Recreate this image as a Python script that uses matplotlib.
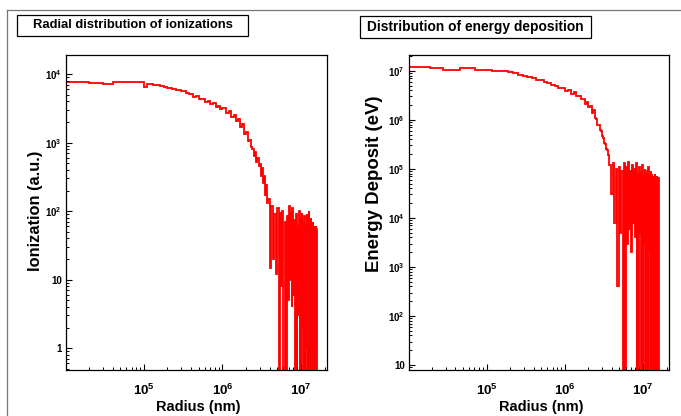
import numpy as np
import matplotlib
matplotlib.use("Agg")
import matplotlib.pyplot as plt
from matplotlib.ticker import LogLocator, FuncFormatter, NullFormatter, FixedLocator
from matplotlib.patches import Rectangle
from matplotlib.lines import Line2D

plt.rcParams['font.family'] = ['Liberation Sans', 'DejaVu Sans']
plt.rcParams['font.weight'] = 'bold'
plt.rcParams['mathtext.fontset'] = 'custom'
plt.rcParams['mathtext.rm'] = 'Liberation Sans:bold'
plt.rcParams['mathtext.bf'] = 'Liberation Sans:bold'
plt.rcParams['mathtext.default'] = 'rm'

# ---------------- data ----------------
titles = ["Radial distribution of ionizations", "Distribution of energy deposition"]
xlabel = "Radius (nm)"
ylabels = ["Ionization (a.u.)", "Energy Deposit (eV)"]
x_major_ticks = [1e5, 1e6, 1e7]

# Ionization histogram (left)
ion_head_edges = [9.0e3, 2.0e4, 3.0e4, 4.0e4, 1.0e5, 1.1e5, 1.3e5, 1.6e5, 1.8e5, 2.0e5,
                  2.3e5, 2.6e5, 3.0e5, 3.4e5, 3.8e5, 4.2e5, 4.6e5, 5.0e5, 5.5e5, 6.0e5,
                  6.5e5, 7.0e5, 7.6e5, 8.2e5, 8.8e5, 9.4e5, 1.0e6,
                  1.1e6, 1.2e6, 1.3e6, 1.4e6, 1.5e6, 1.6e6, 1.7e6, 1.8e6, 1.9e6, 2.0e6,
                  2.1e6, 2.2e6, 2.3e6, 2.4e6, 2.5e6, 2.6e6, 2.7e6, 2.8e6, 2.9e6, 3.0e6,
                  3.1e6, 3.2e6, 3.3e6, 3.4e6, 3.5e6, 3.6e6, 3.7e6, 3.8e6]
ion_head_values = [7600, 7500, 7100, 7570, 6530, 7140, 6950, 6750, 6500, 6350,
                   6050, 5800, 5650, 5250, 5100, 4700, 4800, 4350, 4400, 3950,
                   4050, 3650, 3750, 3300, 3450, 3100,
                   3150, 2700, 2850, 2350, 2550, 2050, 2200, 1700, 1900, 1350,
                   1450, 1050, 1100, 850, 800, 640, 720, 520, 600, 450,
                   480, 330, 420, 260, 330, 170, 240, 130]
ion_tail_range = (3.8e6, 1.6e7)
ion_tail_values = [150, 15, 120, 20, 90, 12, 110, 0, 95, 8,
                   100, 0, 70, 0, 85, 5, 120, 10, 95, 4,
                   110, 6, 75, 0, 90, 0, 60, 3, 100, 0,
                   80, 0, 95, 2, 70, 0, 85, 0, 60, 1,
                   90, 0, 75, 0, 100, 2, 65, 0, 80, 0,
                   55, 1, 70, 0, 60, 0, 50, 0, 60, 0,
                   55, 0]

# Energy deposit histogram (right)
edep_head_edges = [9.0e3, 1.9e4, 2.8e4, 4.6e4, 7.2e4, 1.16e5, 1.9e5, 2.2e5, 2.5e5, 2.9e5,
                   3.3e5, 3.8e5, 4.3e5, 4.8e5, 5.4e5, 6.0e5, 6.7e5, 7.4e5, 8.2e5, 9.0e5,
                   1.0e6, 1.1e6, 1.2e6, 1.3e6, 1.4e6, 1.5e6, 1.6e6, 1.7e6, 1.8e6, 1.9e6,
                   2.0e6, 2.1e6, 2.2e6, 2.3e6, 2.4e6, 2.5e6, 2.6e6, 2.7e6, 2.8e6, 2.9e6,
                   3.0e6, 3.1e6, 3.2e6, 3.3e6, 3.4e6, 3.5e6, 3.6e6, 3.7e6]
edep_head_values = [1.19e7, 1.13e7, 1.05e7, 1.13e7, 1.05e7, 9.7e6, 9.3e6, 8.9e6, 8.4e6, 8.0e6,
                    7.4e6, 7.2e6, 6.6e6, 6.4e6, 5.8e6, 5.7e6, 5.1e6, 5.0e6, 4.5e6, 4.4e6,
                    3.9e6, 4.1e6, 3.4e6, 3.7e6, 3.0e6, 3.1e6, 2.6e6, 2.7e6, 2.1e6, 2.35e6,
                    1.8e6, 1.9e6, 1.4e6, 1.55e6, 1.1e6, 1.05e6, 8.0e5, 7.8e5, 6.2e5, 5.8e5,
                    4.6e5, 4.2e5, 3.4e5, 3.2e5, 2.5e5, 2.4e5, 1.9e5]
edep_tail_range = (3.7e6, 1.59e7)
edep_tail_values = [1.2e5, 3e4, 1.3e5, 8e3, 1.0e5, 400, 1.1e5, 5e3, 9e4, 0,
                    1.3e5, 0, 1.1e5, 3e3, 1.4e5, 6e3, 9e4, 2e3, 1.2e5, 8e3,
                    1.0e5, 4e3, 1.3e5, 0, 8e4, 0, 1.1e5, 5e3, 9e4, 0,
                    1.2e5, 0, 7e4, 3e3, 1.0e5, 0, 8e4, 0, 9e4, 0,
                    1.1e5, 2e3, 7e4, 0, 9e4, 0, 8e4, 0, 7e4, 0,
                    6.5e4, 0, 8e4, 0, 6e4, 0, 7e4, 0, 6e4, 0,
                    6.5e4, 0]
end_edge = 2.0e7

x_limits = (1.02e4, 2.15e7)
ion_ylim = (0.48, 1.9e4)
edep_ylim = (7.9, 2.1e7)

# ---------------- figure ----------------
W, H = 681, 416
fig = plt.figure(figsize=(W / 100, H / 100), dpi=100)


def rect(x0, y0, x1, y1):
    return [x0 / W, 1 - y1 / H, (x1 - x0) / W, (y1 - y0) / H]


def log_fmt(v, pos):
    e = int(round(np.log10(v)))
    if e == 0:
        return '1'
    if e == 1:
        return '10'
    return r'$10^{%d}$' % e


def build(head_edges, head_values, tail_range, tail_values):
    n_tail = len(tail_values) - 1
    tail_edges = np.linspace(tail_range[0], tail_range[1], n_tail + 1)[1:]
    edges = np.concatenate([head_edges, tail_edges, [end_edge]])
    values = np.array(list(head_values) + list(tail_values), dtype=float)
    return edges, values


panels = [
    dict(box=(66, 55, 327, 370), head=(ion_head_edges, ion_head_values, ion_tail_range, ion_tail_values),
         ylim=ion_ylim, floor=0.05, title=titles[0], ylabel=ylabels[0],
         tbox=(17, 15, 248, 36), tsize=9.4, ylsize=11.8, ylx=-0.088, yly=0.505),
    dict(box=(409, 55, 669, 370), head=(edep_head_edges, edep_head_values, edep_tail_range, edep_tail_values),
         ylim=edep_ylim, floor=1.0, title=titles[1], ylabel=ylabels[1],
         tbox=(360, 16, 591, 38), tsize=9.9, ylsize=13.4, ylx=-0.100, yly=0.59),
]

for p in panels:
    ax = fig.add_axes(rect(*p['box']))
    edges, values = build(*p['head'])
    ax.stairs(np.maximum(values, p['floor']), edges, baseline=None, color='#ff0000', lw=1.3)
    ax.set_xscale('log')
    ax.set_yscale('log')
    ax.set_xlim(*x_limits)
    ax.set_ylim(*p['ylim'])
    for s in ax.spines.values():
        s.set_linewidth(0.9)
    ax.xaxis.set_major_locator(FixedLocator(x_major_ticks))
    ax.xaxis.set_minor_locator(LogLocator(base=10, subs=np.arange(2, 10), numticks=40))
    ax.yaxis.set_major_locator(LogLocator(base=10, numticks=20))
    ax.yaxis.set_minor_locator(LogLocator(base=10, subs=np.arange(2, 10), numticks=40))
    ax.xaxis.set_major_formatter(FuncFormatter(log_fmt))
    ax.yaxis.set_major_formatter(FuncFormatter(log_fmt))
    ax.xaxis.set_minor_formatter(NullFormatter())
    ax.yaxis.set_minor_formatter(NullFormatter())
    ax.tick_params(which='both', direction='in', top=False, right=False)
    ax.tick_params(which='minor', labelbottom=False, labelleft=False)
    ax.tick_params(which='major', length=4.5, width=0.8)
    ax.tick_params(which='minor', length=2.5, width=0.7)
    ax.tick_params(axis='x', which='major', labelsize=9.5, pad=9)
    ax.tick_params(axis='y', which='major', labelsize=7, pad=3)
    ax.set_xlabel(xlabel, fontsize=10.5, fontweight='bold')
    ax.xaxis.set_label_coords(0.507, -0.094)
    ax.set_ylabel(p['ylabel'], fontsize=p['ylsize'], fontweight='bold')
    ax.yaxis.set_label_coords(p['ylx'], p['yly'])

    x0, y0, x1, y1 = p['tbox']
    fig.patches.append(Rectangle((x0 / W, 1 - y1 / H), (x1 - x0) / W, (y1 - y0) / H,
                                 transform=fig.transFigure, fill=False, edgecolor='black', lw=0.9))
    fig.text((x0 + x1) / 2 / W, 1 - (y0 + y1) / 2 / H, p['title'], ha='center', va='center',
             fontsize=p['tsize'], fontweight='bold')

# pad borders
fig.lines.append(Line2D([7 / W, 1.0], [1 - 10 / H, 1 - 10 / H], transform=fig.transFigure,
                        color='#777777', lw=0.9))
fig.lines.append(Line2D([7 / W, 7 / W], [1 - 10 / H, 0.0], transform=fig.transFigure,
                        color='#777777', lw=0.9))

fig.savefig('out.png', dpi=100, facecolor='white')
